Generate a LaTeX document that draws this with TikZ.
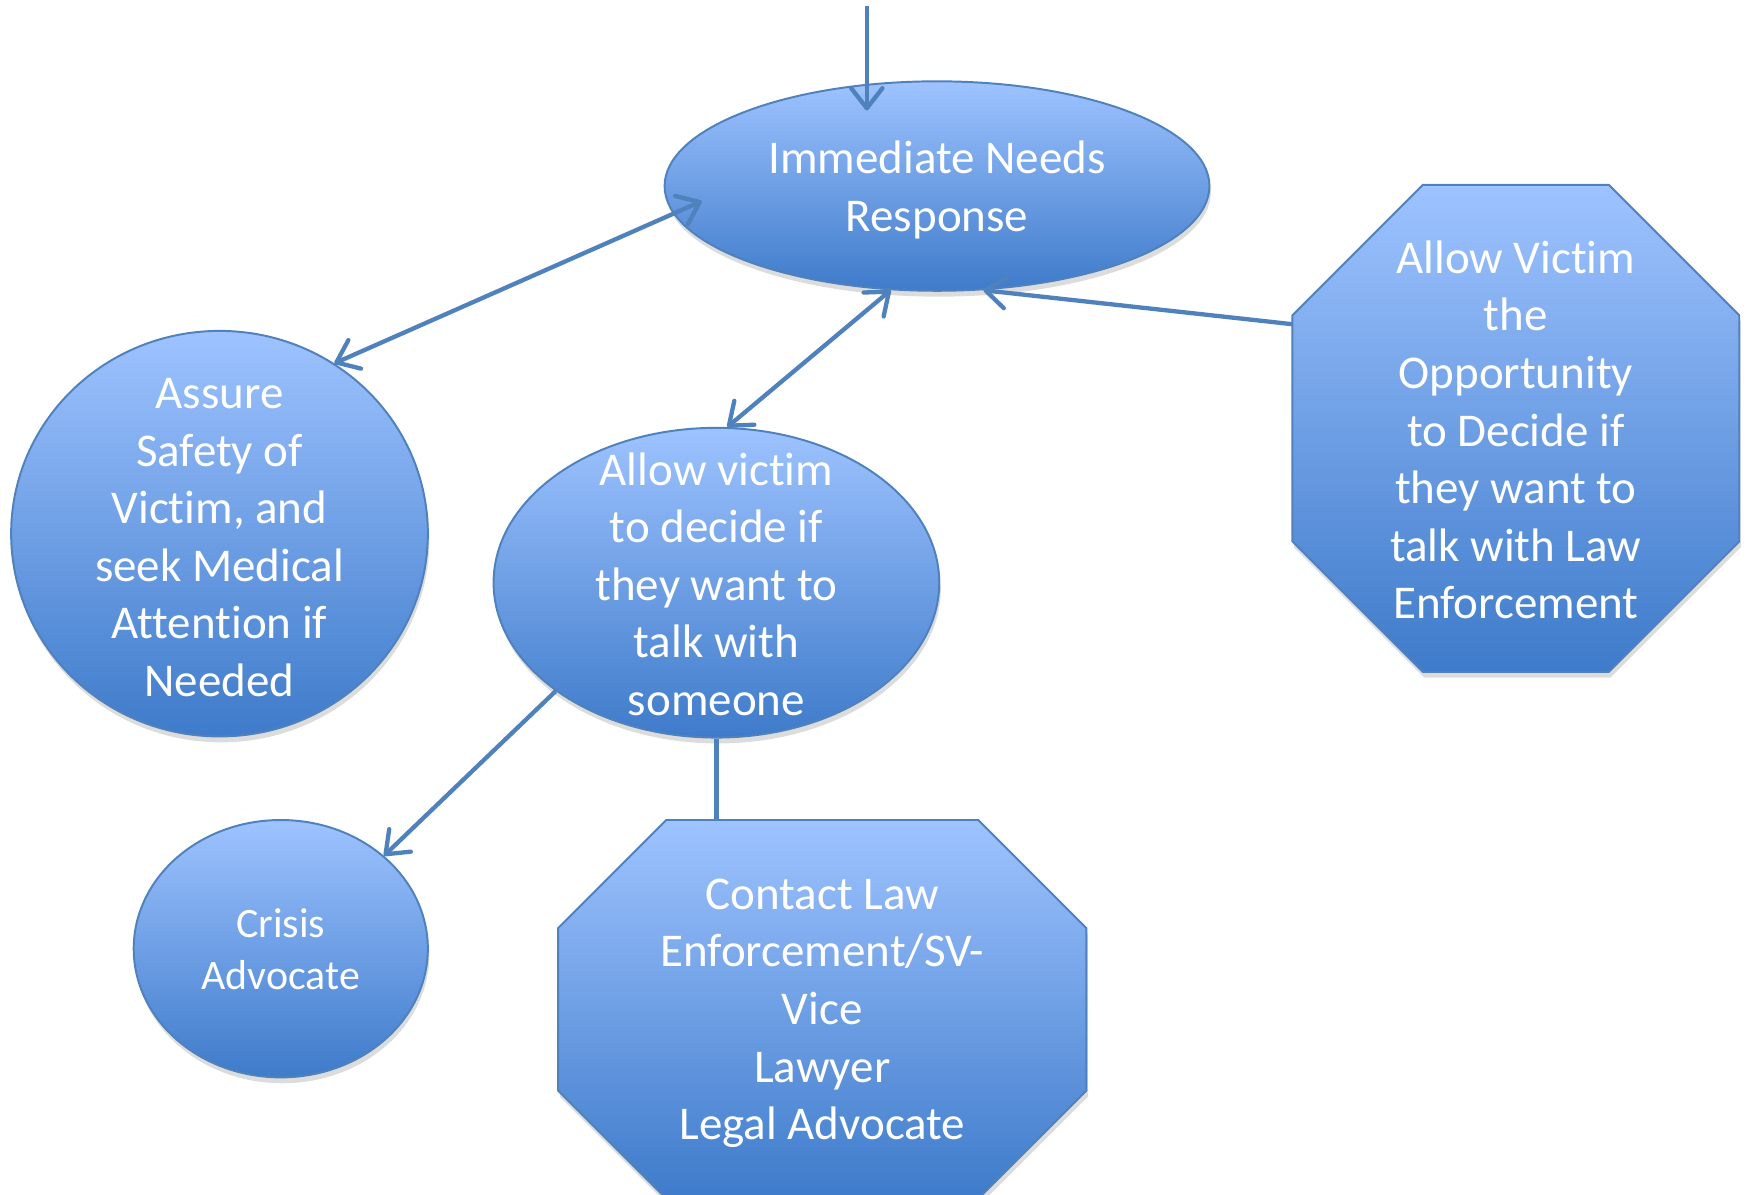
\documentclass[tikz,border=0pt]{standalone}
\usepackage{fontspec}
\setmainfont{Carlito}[Ligatures={NoCommon,NoRequired,NoContextual}, Contextuals=NoAlternate]
\usetikzlibrary{shapes.geometric,arrows.meta,shadows,backgrounds}

\definecolor{lineblue}{RGB}{79,129,189}
\definecolor{lightblue}{RGB}{158,195,255}
\definecolor{darkblue}{RGB}{62,123,202}

\begin{document}
\begin{tikzpicture}[x=1cm, y=-1cm,
    >={Straight Barb[length=1.8mm, width=2.8mm, round]},
    blueshape/.style={draw=lineblue, line width=0.5pt, top color=lightblue, bottom color=darkblue, inner sep=0pt,
        drop shadow={shadow xshift=0.4pt, shadow yshift=-1.5pt, opacity=0.3, fill=black!45}},
    bubble/.style={blueshape, ellipse},
    octo/.style={rectangle, inner sep=0pt, outer sep=0pt},
    txt/.style={text=white, align=center, yshift=-1pt, font=\fontsize{12}{14.7}\selectfont},
    link/.style={lineblue, line width=1.1pt}]
    \useasboundingbox (0,0) rectangle (15.68,10.72);

    \node[bubble, minimum width=4.89cm, minimum height=1.88cm,
        label={[txt]center:{Immediate Needs\\Response}}] (IN) at (8.41,1.67) {};
    \node[bubble, minimum width=3.74cm, minimum height=3.64cm,
        label={[txt]center:{Assure\\Safety of\\Victim, and\\seek Medical\\Attention if\\Needed}}] (safety) at (1.97,4.79) {};
    \node[bubble, minimum width=4.00cm, minimum height=2.78cm,
        label={[txt, yshift=0.6pt]center:{Allow victim\\to decide if\\they want to\\talk with\\someone}}] (talk) at (6.43,5.23) {};
    \node[octo, minimum width=4.01cm, minimum height=4.37cm,
        label={[txt, yshift=0.6pt]center:{Allow Victim\\the\\Opportunity\\to Decide if\\they want to\\talk with Law\\Enforcement}}] (lawopt) at (13.605,3.845) {};
    \node[bubble, minimum width=2.64cm, minimum height=2.31cm,
        label={[txt, yshift=0.9pt, font=\fontsize{10.7}{13.1}\selectfont]center:{Crisis\\Advocate}}] (crisis) at (2.52,8.515) {};
    \node[octo, minimum width=4.74cm, minimum height=3.40cm,
        label={[txt]center:{Contact Law\\Enforcement/SV-\\Vice\\Lawyer\\Legal Advocate}}] (contact) at (7.38,9.06) {};
    \coordinate (entry) at (7.78,0.05);

    \begin{scope}[on background layer]
        \foreach \oct/\cut in {lawopt/1.17cm, contact/0.97cm}
            \path[blueshape] ([xshift=\cut]\oct.north west) -- ([xshift=-\cut]\oct.north east)
                -- ([yshift=-\cut]\oct.north east) -- ([yshift=\cut]\oct.south east)
                -- ([xshift=-\cut]\oct.south east) -- ([xshift=\cut]\oct.south west)
                -- ([yshift=\cut]\oct.south west) -- ([yshift=-\cut]\oct.north west) -- cycle;
    \end{scope}

    \draw[link, ->, shorten >=-2.7mm] (entry) -- (entry |- IN.north);
    \draw[link, <->, shorten >=-2.8mm] (safety.56) -- (IN.186);
    \draw[link, <->] (talk.86) -- (IN.246);
    \draw[link, ->] (lawopt.155) -- (IN.294);
    \draw[link, ->] (talk.214) -- (crisis.42);
    \draw[link] (talk.south) -- (talk.south |- contact.north);
\end{tikzpicture}
\end{document}
